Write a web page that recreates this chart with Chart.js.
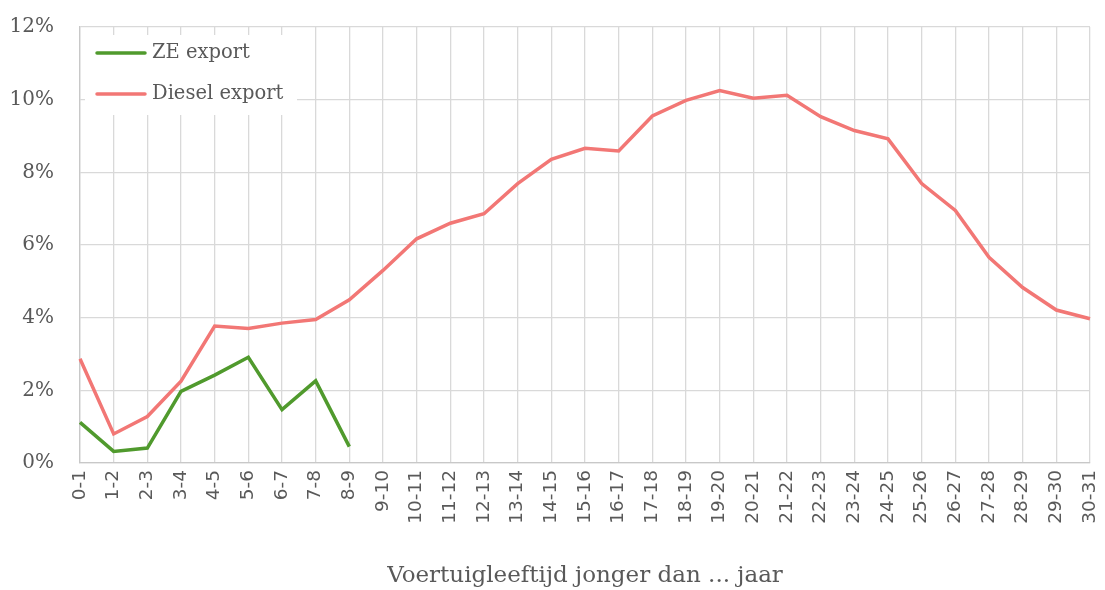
<!DOCTYPE html>
<html>
<head>
<meta charset="utf-8">
<script src="https://cdn.jsdelivr.net/npm/chart.js@4.4.1/dist/chart.umd.min.js"></script>
<style>
  html, body { margin: 0; padding: 0; background: #fff; }
  #wrap { width: 1105px; height: 590px; position: relative; }
</style>
</head>
<body>
<div id="wrap"><canvas id="exportChart"></canvas></div>
<script>
const ageLabels = [
  '0-1', '1-2', '2-3', '3-4', '4-5', '5-6', '6-7', '7-8', '8-9', '9-10',
  '10-11', '11-12', '12-13', '13-14', '14-15', '15-16', '16-17', '17-18', '18-19', '19-20',
  '20-21', '21-22', '22-23', '23-24', '24-25', '25-26', '26-27', '27-28', '28-29', '29-30', '30-31'
];

// share of exports per age bracket, in %
const zeExport = [1.12, 0.32, 0.41, 1.97, 2.42, 2.91, 1.47, 2.26, 0.45];

const dieselExport = [
  2.87, 0.80, 1.28, 2.25, 3.77, 3.70, 3.85, 3.95, 4.49, 5.30,
  6.17, 6.60, 6.86, 7.69, 8.36, 8.66, 8.59, 9.55, 9.98, 10.25,
  10.04, 10.12, 9.53, 9.15, 8.92, 7.69, 6.95, 5.66, 4.83, 4.21, 3.97
];

const yTicks = [0, 2, 4, 6, 8, 10, 12];

const textColor = '#595959';
const gridColor = '#d9d9d9';
const serif = "'DejaVu Serif', serif";

// legend box drawn inside the plot area, top left
const insideLegend = {
  id: 'insideLegend',
  afterDraw(chart) {
    const ctx = chart.ctx;
    const area = chart.chartArea;
    const x = area.left + 5;
    const y = area.top + 8;
    ctx.save();
    ctx.fillStyle = '#fff';
    ctx.fillRect(x, y, 212, 80);
    ctx.font = '19.5px ' + serif;
    ctx.textBaseline = 'middle';
    chart.data.datasets.forEach((ds, i) => {
      const ly = y + 18 + i * 41;
      ctx.strokeStyle = ds.borderColor;
      ctx.lineWidth = 3.5;
      ctx.lineCap = 'round';
      ctx.beginPath();
      ctx.moveTo(x + 12, ly);
      ctx.lineTo(x + 60, ly);
      ctx.stroke();
      ctx.fillStyle = textColor;
      ctx.fillText(ds.label, x + 67, ly);
    });
    ctx.restore();
  }
};

new Chart(document.getElementById('exportChart'), {
  type: 'line',
  data: {
    labels: ageLabels,
    datasets: [
      {
        label: 'ZE export',
        data: zeExport,
        borderColor: '#509a2d',
        borderWidth: 3.5,
        pointRadius: 0,
        tension: 0,
        fill: false
      },
      {
        label: 'Diesel export',
        data: dieselExport,
        borderColor: '#f27775',
        borderWidth: 3.5,
        pointRadius: 0,
        tension: 0,
        fill: false
      }
    ]
  },
  options: {
    responsive: true,
    maintainAspectRatio: false,
    animation: false,
    layout: { padding: { left: 0, right: 15, top: 27, bottom: 0 } },
    plugins: {
      legend: { display: false },
      tooltip: { enabled: false }
    },
    scales: {
      x: {
        offset: false,
        grid: { color: gridColor, lineWidth: 1.3, drawTicks: false, offset: false },
        border: { color: '#c8c8c8', width: 1.3 },
        ticks: {
          color: textColor,
          font: { family: "'DejaVu Sans', sans-serif", size: 18.5 },
          minRotation: 90,
          maxRotation: 90,
          autoSkip: false,
          padding: 7
        },
        title: {
          display: true,
          text: 'Voertuigleeftijd jonger dan ... jaar',
          color: textColor,
          font: { family: serif, size: 23 },
          padding: { top: 10, bottom: 0 }
        },
        afterFit(scale) {
          scale.height = 127;
          scale.paddingLeft = 0;
          scale.paddingRight = 0;
        }
      },
      y: {
        min: 0,
        max: 12,
        afterBuildTicks(scale) { scale.ticks = yTicks.map(v => ({ value: v })); },
        grid: { color: gridColor, lineWidth: 1.3, drawTicks: false },
        border: { color: '#c8c8c8', width: 1.3 },
        ticks: {
          color: textColor,
          font: { family: serif, size: 20 },
          padding: 26,
          callback: v => v + '%'
        },
        afterFit(scale) {
          scale.width = 80;
          scale.paddingTop = 0;
          scale.paddingBottom = 0;
        }
      }
    }
  },
  plugins: [insideLegend]
});
</script>
</body>
</html>
